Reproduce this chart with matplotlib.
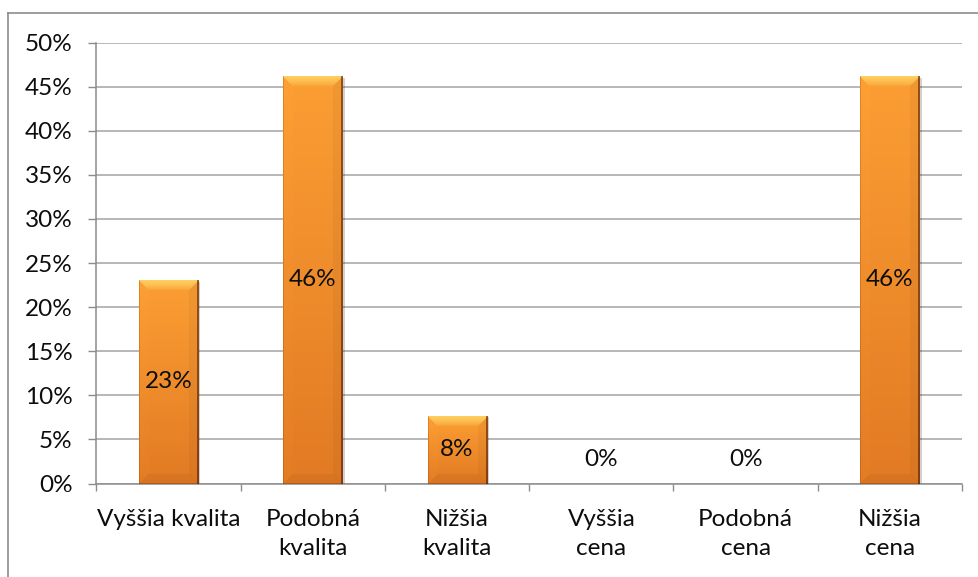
import numpy as np
import matplotlib
matplotlib.use("Agg")
import matplotlib.pyplot as plt
from matplotlib.ticker import FixedLocator, PercentFormatter
from matplotlib.lines import Line2D

categories = ["Vyššia kvalita", "Podobná\nkvalita", "Nižšia\nkvalita",
              "Vyššia\ncena", "Podobná\ncena", "Nižšia\ncena"]
shares = [0.2308, 0.4615, 0.0769, 0.0, 0.0, 0.4615]
y_ticks = [0.0, 0.05, 0.10, 0.15, 0.20, 0.25, 0.30, 0.35, 0.40, 0.45, 0.50]

FONT = "Lato"
FS = 17.5
GRID = "#a3a3a3"
AXIS = "#8c8c8c"
TXT = "#0d0d0d"

W_PX, H_PX = 979, 577
fig = plt.figure(figsize=(W_PX / 100, H_PX / 100), dpi=100)
fig.patch.set_facecolor("white")

# chart-area frame (left and top edges)
fx, fy = 8.5 / W_PX, 1 - 12.5 / H_PX
fig.add_artist(Line2D([fx, fx], [0, fy], color=AXIS, lw=1.2, transform=fig.transFigure))
fig.add_artist(Line2D([fx, 1], [fy, fy], color=AXIS, lw=1.2, transform=fig.transFigure))

left, right, top, bottom = 96.5, 962, 42.5, 483.5
ax = fig.add_axes([left / W_PX, 1 - bottom / H_PX, (right - left) / W_PX, (bottom - top) / H_PX])

x = np.arange(len(categories))
bar_w = 0.41
bars = ax.bar(x, shares, width=bar_w, color="none", edgecolor="none", zorder=3)

ax.set_xlim(-0.5, len(categories) - 0.5)
ax.set_ylim(y_ticks[0], y_ticks[-1])

# y axis
ax.yaxis.set_major_locator(FixedLocator(y_ticks))
ax.yaxis.set_major_formatter(PercentFormatter(1.0, decimals=0))
ax.grid(axis="y", color=GRID, lw=1.1, zorder=0)
ax.set_axisbelow(True)
ax.tick_params(axis="y", direction="out", length=5.8, width=1.0, color=AXIS,
               pad=11.5, labelsize=FS)

# x axis: labels at centres, tick marks on category boundaries
ax.set_xticks(x)
ax.set_xticklabels(categories, linespacing=1.5)
ax.set_xticks(np.arange(len(categories) + 1) - 0.5, minor=True)
ax.tick_params(axis="x", which="major", length=0, pad=18, labelsize=FS)
ax.tick_params(axis="x", which="minor", direction="out", length=5.2, width=1.0, color=AXIS)

for lab in ax.get_xticklabels() + ax.get_yticklabels():
    lab.set_fontfamily(FONT)
    lab.set_color(TXT)

for s in ("top", "right"):
    ax.spines[s].set_visible(False)
for s in ("left", "bottom"):
    ax.spines[s].set_color(AXIS)
    ax.spines[s].set_linewidth(1.1)


def bevel_fill(wp, hp):
    """RGBA texture for a bevelled, vertically shaded orange bar."""
    top_c = np.array([0.985, 0.620, 0.200])
    bot_c = np.array([0.885, 0.480, 0.140])
    rows = np.linspace(0, 1, hp)[:, None, None]
    img = top_c * (1 - rows) + bot_c * rows
    img = np.broadcast_to(img, (hp, wp, 3)).copy()
    b = max(1, min(10, hp // 3, wp // 3))
    r = np.arange(hp)[:, None]
    c = np.arange(wp)[None, :]
    # top bevel: light yellow band with mitred corners
    top_band = (r < b) & (c >= r) & (c < wp - r)
    f = np.clip(1 - r / b, 0, 1) ** 0.7
    f = np.broadcast_to(f, (hp, wp))[..., None]
    hi = np.array([1.0, 0.86, 0.42])
    img = np.where(top_band[..., None], img * (1 - 0.8 * f) + hi * 0.8 * f, img)
    # side bevels
    lb = (c < b) & (r >= c) & (r < hp - c)
    rb = (c >= wp - b) & (r >= wp - 1 - c) & (r < hp - (wp - 1 - c))
    img = np.where(lb[..., None], np.clip(img * 1.01, 0, 1), img)
    img = np.where(rb[..., None], img * 0.96, img)
    # bottom bevel
    bb = (r >= hp - b) & (c >= hp - 1 - r) & (c < wp - (hp - 1 - r))
    img = np.where(bb[..., None], img * 0.95, img)
    # outline
    img[:, :1] *= np.array([0.88, 0.84, 0.80])
    img[:, -2:] *= np.array([0.62, 0.52, 0.45])
    img[-1:, :] *= 0.80
    img = np.clip(img, 0, 1)
    alpha = np.ones((hp, wp, 1))
    return np.concatenate([img, alpha], axis=2)


fig.canvas.draw()
to_px = ax.transData
for rect in bars.patches:
    h = rect.get_height()
    if h <= 0:
        continue
    x0, w = rect.get_x(), rect.get_width()
    (px0, py0), (px1, py1) = to_px.transform([(x0, 0), (x0 + w, h)])
    wp, hp = int(round(px1 - px0)), int(round(py1 - py0))
    # soft drop shadow
    ax.imshow(np.dstack([np.zeros((2, 2, 3)), np.full((2, 2, 1), 0.18)]),
              extent=(x0 + 0.010, x0 + w + 0.010, 0, h - 0.002),
              aspect="auto", zorder=2.5, interpolation="nearest")
    ax.imshow(bevel_fill(wp, hp), extent=(x0, x0 + w, 0, h), aspect="auto",
              zorder=3, interpolation="nearest")

ax.set_xlim(-0.5, len(categories) - 0.5)
ax.set_ylim(y_ticks[0], y_ticks[-1])

# value labels
for xi, val in zip(x, shares):
    txt = f"{val:.0%}"
    if val > 0:
        ax.annotate(txt, (xi, val / 2), ha="center", va="center", fontsize=FS,
                    fontfamily=FONT, color=TXT, zorder=5)
    else:
        ax.annotate(txt, (xi, 0), xytext=(0, 17.5), textcoords="offset points",
                    ha="center", va="center", fontsize=FS, fontfamily=FONT,
                    color=TXT, zorder=5)

fig.savefig("out.png", dpi=100)
